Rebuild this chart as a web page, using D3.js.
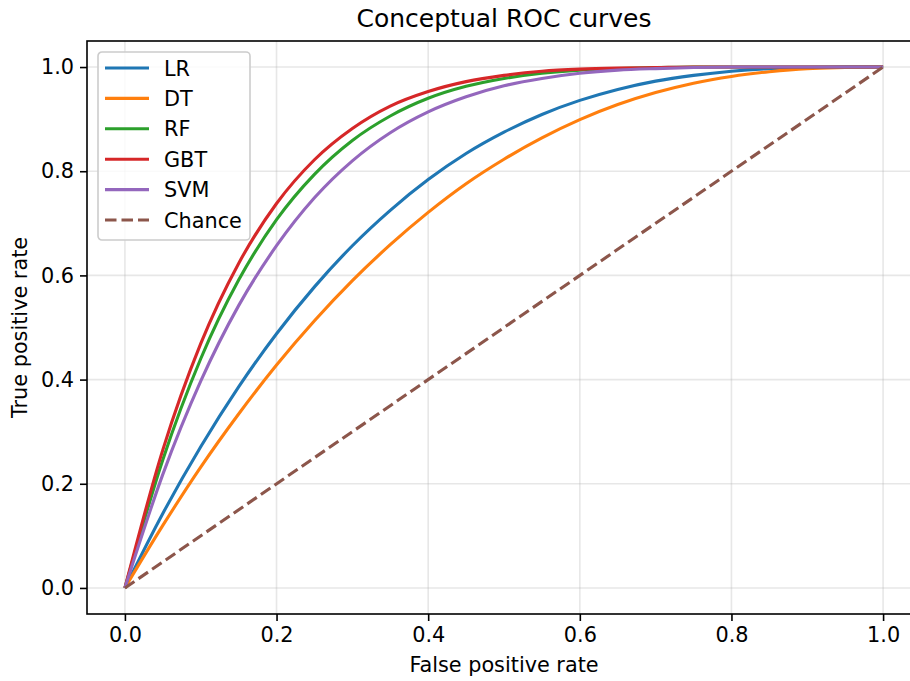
<!DOCTYPE html>
<html>
<head>
<meta charset="utf-8">
<script src="https://cdn.jsdelivr.net/npm/d3@7"></script>
<style>
	body { margin: 0; background: #ffffff; }
	svg { display: block; font-family: "DejaVu Sans", sans-serif; }
</style>
</head>
<body>
<svg id="chart" width="910" height="681"></svg>
<script>
// false positive rate sampled every 0.05
let fpr = [0, 0.05, 0.1, 0.15, 0.2, 0.25, 0.3, 0.35, 0.4, 0.45, 0.5, 0.55, 0.6, 0.65, 0.7, 0.75, 0.8, 0.85, 0.9, 0.95, 1];

// true positive rates
let tprLR  = [0, 0.143, 0.271, 0.386, 0.488, 0.578, 0.657, 0.725, 0.784, 0.834, 0.875, 0.909, 0.936, 0.957, 0.973, 0.984, 0.992, 0.997, 0.999, 1, 1];
let tprDT  = [0, 0.120, 0.232, 0.334, 0.428, 0.513, 0.590, 0.659, 0.721, 0.776, 0.823, 0.864, 0.899, 0.928, 0.951, 0.969, 0.982, 0.991, 0.997, 0.999, 1];
let tprRF  = [0, 0.246, 0.440, 0.591, 0.707, 0.794, 0.859, 0.906, 0.940, 0.963, 0.978, 0.988, 0.994, 0.997, 0.999, 1, 1, 1, 1, 1, 1];
let tprGBT = [0, 0.265, 0.469, 0.623, 0.738, 0.822, 0.882, 0.925, 0.953, 0.972, 0.984, 0.992, 0.996, 0.998, 0.999, 1, 1, 1, 1, 1, 1];
let tprSVM = [0, 0.218, 0.397, 0.542, 0.657, 0.749, 0.820, 0.874, 0.914, 0.943, 0.964, 0.978, 0.988, 0.994, 0.997, 0.999, 1, 1, 1, 1, 1];
let tprChance = [0, 1];
let fprChance = [0, 1];

let seriesNames = ["LR", "DT", "RF", "GBT", "SVM", "Chance"];
let seriesColours = ["#1f77b4", "#ff7f0e", "#2ca02c", "#d62728", "#9467bd", "#8c564b"];
let tickValues = [0, 0.2, 0.4, 0.6, 0.8, 1.0];

let chartTitle = "Conceptual ROC curves";
let xTitle = "False positive rate";
let yTitle = "True positive rate";

let fontSize = 20.8;

function makeSeries(){
	let ys = [tprLR, tprDT, tprRF, tprGBT, tprSVM];
	let series = ys.map((vals, i) => ({
		"name": seriesNames[i],
		"colour": seriesColours[i],
		"dash": null,
		"values": vals.map((v, j) => ({"x": fpr[j], "y": v}))
	}));
	series.push({
		"name": seriesNames[5],
		"colour": seriesColours[5],
		"dash": "11.5,5",
		"values": tprChance.map((v, j) => ({"x": fprChance[j], "y": v}))
	});
	return series;
}

function styleAxis(g){
	g.select(".domain").remove();
	g.selectAll(".tick line").attr("stroke", "#000").attr("stroke-width", 1.6);
	g.selectAll(".tick text").attr("fill", "#000").attr("font-size", fontSize).attr("font-family", "DejaVu Sans");
}

function drawRocChart(holder, series){
	let margin = {"left": 87, "top": 41, "bottom": 67, "right": -11};
	let width = 910;
	let height = 681;
	let svg = d3.select(holder);

	let x = d3.scaleLinear()
		.domain([-0.05, 1.05])
		.range([margin.left, width - margin.right]);
	let y = d3.scaleLinear()
		.domain([-0.05, 1.05])
		.range([height - margin.bottom, margin.top]);

	// grid
	let grid = svg.append("g").attr("class", "grid")
		.attr("stroke", "#b0b0b0")
		.attr("stroke-opacity", 0.3)
		.attr("stroke-width", 1.6);
	grid.selectAll("line.gx")
		.data(tickValues)
		.join("line")
		.attr("class", "gx")
		.attr("x1", d => x(d)).attr("x2", d => x(d))
		.attr("y1", margin.top).attr("y2", height - margin.bottom);
	grid.selectAll("line.gy")
		.data(tickValues)
		.join("line")
		.attr("class", "gy")
		.attr("y1", d => y(d)).attr("y2", d => y(d))
		.attr("x1", margin.left).attr("x2", width - margin.right);

	const line = d3.line()
		.x(d => x(d.x))
		.y(d => y(d.y))
		.curve(d3.curveMonotoneX);

	svg.append("g")
		.attr("fill", "none")
		.attr("stroke-width", 3.1)
		.selectAll("path")
		.data(series)
		.join("path")
		.attr("stroke", d => d.colour)
		.attr("stroke-dasharray", d => d.dash)
		.attr("d", d => line(d.values));

	// axes
	svg.append("g")
		.attr("transform", `translate(0,${height - margin.bottom})`)
		.call(d3.axisBottom(x).tickValues(tickValues).tickFormat(d3.format(".1f")).tickSize(7).tickPadding(6).tickSizeOuter(0))
		.call(styleAxis);

	svg.append("g")
		.attr("transform", `translate(${margin.left},0)`)
		.call(d3.axisLeft(y).tickValues(tickValues).tickFormat(d3.format(".1f")).tickSize(7).tickPadding(6).tickSizeOuter(0))
		.call(styleAxis);

	// spines
	svg.append("rect")
		.attr("x", margin.left)
		.attr("y", margin.top)
		.attr("width", width - margin.right - margin.left)
		.attr("height", height - margin.bottom - margin.top)
		.attr("fill", "none")
		.attr("stroke", "#000")
		.attr("stroke-width", 1.6);

	drawLegend(svg.append("g").attr("class", "legend").attr("transform", "translate(98,52)"), series);

	svg.append("text")
		.attr("x", (margin.left + width - margin.right) / 2)
		.attr("y", 27)
		.attr("text-anchor", "middle")
		.attr("font-size", 25)
		.text(chartTitle);

	svg.append("text")
		.attr("x", (margin.left + width - margin.right) / 2)
		.attr("y", 672)
		.attr("text-anchor", "middle")
		.attr("font-size", fontSize)
		.text(xTitle);

	svg.append("text")
		.attr("transform", `translate(27,${(margin.top + height - margin.bottom) / 2}) rotate(-90)`)
		.attr("text-anchor", "middle")
		.attr("font-size", fontSize)
		.text(yTitle);
}

function drawLegend(g, series){
	let rowH = 30.4;
	g.append("rect")
		.attr("width", 152)
		.attr("height", 188)
		.attr("rx", 4)
		.attr("fill", "#ffffff")
		.attr("fill-opacity", 0.8)
		.attr("stroke", "#cccccc")
		.attr("stroke-width", 1.6);

	let rows = g.selectAll("g.row")
		.data(series)
		.join("g")
		.attr("class", "row")
		.attr("transform", (d, i) => `translate(0,${16 + i * rowH})`);

	rows.append("line")
		.attr("x1", 7).attr("x2", 51)
		.attr("stroke", d => d.colour)
		.attr("stroke-width", 3.1)
		.attr("stroke-dasharray", d => d.dash);

	rows.append("text")
		.attr("x", 66)
		.attr("dy", "0.36em")
		.attr("font-size", fontSize)
		.text(d => d.name);
}

drawRocChart("#chart", makeSeries());
</script>
</body>
</html>
